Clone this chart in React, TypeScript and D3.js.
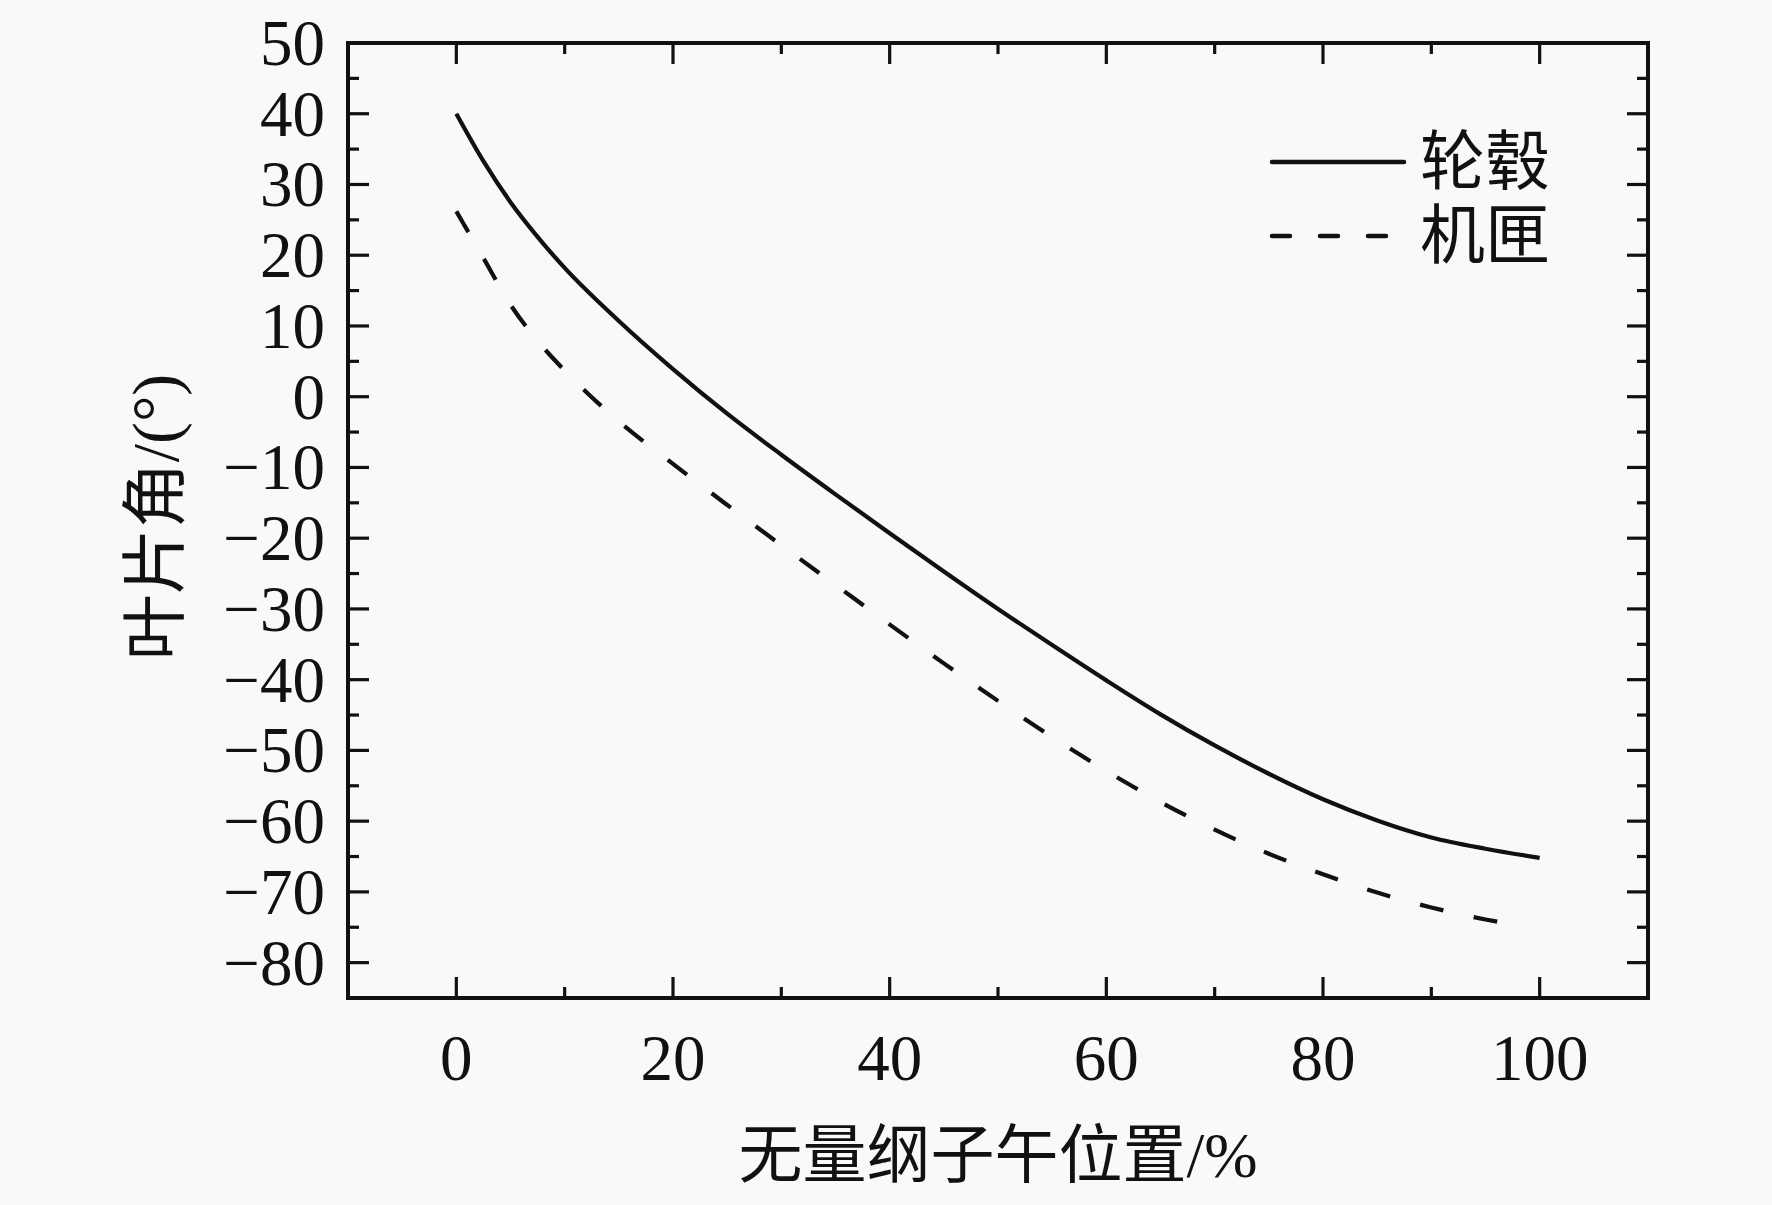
import * as d3 from "d3";

// blade angle along normalized meridional position
const hubX = [0, 2.5, 5, 7.5, 10, 15, 20, 25, 30, 35, 40, 45, 50, 55, 60, 65, 70, 75, 80, 85, 90, 95, 100];
const hubY = [40, 33.3, 27.5, 22.6, 18.2, 10.7, 3.9, -2.4, -8.2, -13.8, -19.3, -24.7, -30.0, -35.1, -40.1, -44.9, -49.3, -53.3, -56.9, -59.9, -62.3, -63.9, -65.2];

const shroudX = [0, 2.5, 5, 7.5, 10, 15, 20, 25, 30, 35, 40, 45, 50, 55, 60, 65, 70, 75, 80, 85, 90, 95, 98];
const shroudY = [26.2, 19.6, 13.0, 7.9, 3.7, -3.5, -9.5, -15.3, -21.0, -26.6, -32.2, -37.7, -43.0, -48.1, -52.9, -57.3, -61.2, -64.6, -67.5, -70.1, -72.2, -73.9, -74.7];

const xTicks = [0, 20, 40, 60, 80, 100];
const yTicks = [50, 40, 30, 20, 10, 0, -10, -20, -30, -40, -50, -60, -70, -80];
const seriesNames = ["轮毂", "机匣"];

const W = 1772;
const H = 1205;
const M = { left: 348, right: 1648, top: 43, bottom: 998 };
const serif = "'Liberation Serif', 'Times New Roman', 'Noto Sans CJK SC', serif";
const ink = "#111";

export default function App() {
  const x = d3.scaleLinear().domain([-10, 110]).range([M.left, M.right]);
  const y = d3.scaleLinear().domain([-85, 50]).range([M.bottom, M.top]);

  const line = d3
    .line<[number, number]>()
    .x((d) => x(d[0]))
    .y((d) => y(d[1]))
    .curve(d3.curveMonotoneX);

  const hub = hubX.map((v, i) => [v, hubY[i]] as [number, number]);
  const shroud = shroudX.map((v, i) => [v, shroudY[i]] as [number, number]);

  const xMinor = d3.range(-10, 111, 10).filter((v) => !xTicks.includes(v));
  const yMinor = d3.range(-85, 51, 5).filter((v) => !yTicks.includes(v));

  const fmt = (v: number) => (v < 0 ? "\u2212" + Math.abs(v) : String(v));

  return (
    <svg
      width={W}
      height={H}
      style={{ position: "absolute", left: 0, top: 0 }}
      fontFamily={serif}
    >
      <rect width={W} height={H} fill="#f9f9f9" />

      {/* ticks, inside on all four sides */}
      <g stroke={ink} strokeWidth={3.2}>
        {xTicks.map((v) => (
          <g key={"xt" + v}>
            <line x1={x(v)} x2={x(v)} y1={M.bottom} y2={M.bottom - 21} />
            <line x1={x(v)} x2={x(v)} y1={M.top} y2={M.top + 21} />
          </g>
        ))}
        {xMinor.map((v) => (
          <g key={"xm" + v}>
            <line x1={x(v)} x2={x(v)} y1={M.bottom} y2={M.bottom - 11} />
            <line x1={x(v)} x2={x(v)} y1={M.top} y2={M.top + 11} />
          </g>
        ))}
        {yTicks.map((v) => (
          <g key={"yt" + v}>
            <line x1={M.left} x2={M.left + 21} y1={y(v)} y2={y(v)} />
            <line x1={M.right} x2={M.right - 21} y1={y(v)} y2={y(v)} />
          </g>
        ))}
        {yMinor.map((v) => (
          <g key={"ym" + v}>
            <line x1={M.left} x2={M.left + 11} y1={y(v)} y2={y(v)} />
            <line x1={M.right} x2={M.right - 11} y1={y(v)} y2={y(v)} />
          </g>
        ))}
      </g>

      <rect
        x={M.left}
        y={M.top}
        width={M.right - M.left}
        height={M.bottom - M.top}
        fill="none"
        stroke={ink}
        strokeWidth={4}
      />

      {/* tick labels */}
      <g fill={ink} fontSize={65}>
        {xTicks.map((v) => (
          <text key={"xl" + v} x={x(v)} y={1080} textAnchor="middle">
            {fmt(v)}
          </text>
        ))}
        {yTicks.map((v) => (
          <text
            key={"yl" + v}
            x={325}
            y={y(v)}
            textAnchor="end"
            dominantBaseline="central"
          >
            {fmt(v)}
          </text>
        ))}
      </g>

      {/* curves */}
      <path d={line(hub) ?? ""} fill="none" stroke={ink} strokeWidth={4.2} />
      <path
        d={line(shroud) ?? ""}
        fill="none"
        stroke={ink}
        strokeWidth={4.2}
        strokeDasharray="24 31"
      />

      {/* legend */}
      <line x1={1272} x2={1404} y1={162} y2={162} stroke={ink} strokeWidth={4.5} strokeLinecap="round" />
      <line
        x1={1272}
        x2={1392}
        y1={236}
        y2={236}
        stroke={ink}
        strokeWidth={4.5}
        strokeLinecap="round"
        strokeDasharray="18 30"
      />
      <g fill={ink} fontSize={65}>
        <text x={1420} y={162} dominantBaseline="central">
          {seriesNames[0]}
        </text>
        <text x={1420} y={236} dominantBaseline="central">
          {seriesNames[1]}
        </text>
      </g>

      {/* axis titles */}
      <text x={998} y={1155} fontSize={64} textAnchor="middle" dominantBaseline="central" fill={ink}>
        无量纲子午位置/%
      </text>
      <text
        transform="translate(155,517) rotate(-90)"
        fontSize={66}
        textAnchor="middle"
        dominantBaseline="central"
        fill={ink}
      >
        叶片角/(°)
      </text>
    </svg>
  );
}
